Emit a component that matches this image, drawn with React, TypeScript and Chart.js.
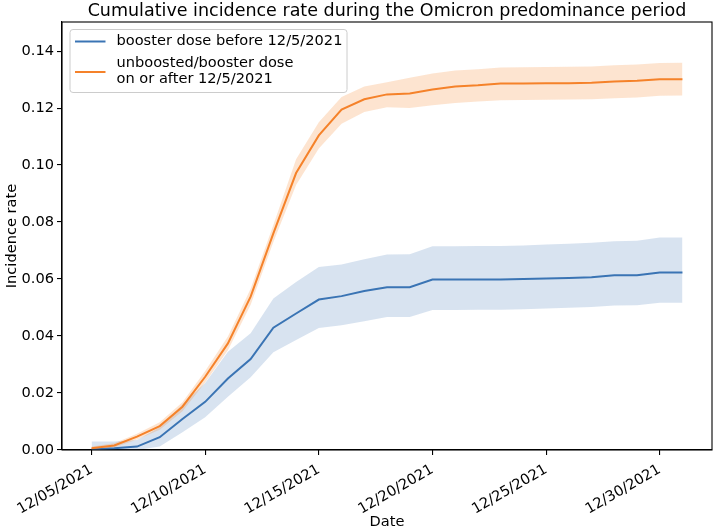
import React, { useEffect, useRef } from "react";
import { Chart, registerables } from "chart.js";

Chart.register(...registerables);

const dates = [
  "12/05/2021", "12/06/2021", "12/07/2021", "12/08/2021", "12/09/2021", "12/10/2021",
  "12/11/2021", "12/12/2021", "12/13/2021", "12/14/2021", "12/15/2021", "12/16/2021",
  "12/17/2021", "12/18/2021", "12/19/2021", "12/20/2021", "12/21/2021", "12/22/2021",
  "12/23/2021", "12/24/2021", "12/25/2021", "12/26/2021", "12/27/2021", "12/28/2021",
  "12/29/2021", "12/30/2021", "12/31/2021",
];

const boosterRate = [
  0.0002, 0.0006, 0.0012, 0.0045, 0.0109, 0.0169, 0.0251, 0.0319, 0.0429, 0.0479,
  0.0528, 0.0540, 0.0558, 0.0571, 0.0571, 0.0598, 0.0598, 0.0598, 0.0598, 0.0600,
  0.0602, 0.0604, 0.0606, 0.0613, 0.0613, 0.0623, 0.0623,
];
const boosterUpper = [
  0.0030, 0.0030, 0.0035, 0.0080, 0.0160, 0.0235, 0.0345, 0.0410, 0.0532, 0.0590,
  0.0642, 0.0651, 0.0669, 0.0686, 0.0687, 0.0715, 0.0715, 0.0716, 0.0716, 0.0718,
  0.0721, 0.0724, 0.0727, 0.0733, 0.0734, 0.0746, 0.0746,
];
const boosterLower = [
  0.0, 0.0, 0.0, 0.0012, 0.0062, 0.0115, 0.0187, 0.0255, 0.0343, 0.0386,
  0.0428, 0.0438, 0.0452, 0.0467, 0.0467, 0.0491, 0.0491, 0.0492, 0.0492, 0.0494,
  0.0497, 0.0499, 0.0502, 0.0507, 0.0508, 0.0517, 0.0517,
];

const unboostedRate = [
  0.0006, 0.0016, 0.0047, 0.0084, 0.0152, 0.0257, 0.0374, 0.0538, 0.0760, 0.0972,
  0.1104, 0.1195, 0.1231, 0.1248, 0.1251, 0.1265, 0.1276, 0.1280, 0.1286, 0.1286,
  0.1287, 0.1287, 0.1289, 0.1293, 0.1296, 0.1301, 0.1301,
];
const unboostedUpper = [
  0.0012, 0.0024, 0.0057, 0.0097, 0.0168, 0.0277, 0.0398, 0.0566, 0.0790, 0.1020,
  0.1150, 0.1239, 0.1276, 0.1291, 0.1306, 0.1321, 0.1332, 0.1336, 0.1342, 0.1343,
  0.1344, 0.1345, 0.1346, 0.1350, 0.1353, 0.1358, 0.1359,
];
const unboostedLower = [
  0.0001, 0.0009, 0.0037, 0.0071, 0.0136, 0.0237, 0.0350, 0.0510, 0.0730, 0.0930,
  0.1058, 0.1145, 0.1186, 0.1203, 0.1200, 0.1210, 0.1218, 0.1223, 0.1227, 0.1228,
  0.1229, 0.1230, 0.1231, 0.1234, 0.1237, 0.1243, 0.1244,
];

const xTickDays = [0, 5, 10, 15, 20, 25];
const xTickLabels = ["12/05/2021", "12/10/2021", "12/15/2021", "12/20/2021", "12/25/2021", "12/30/2021"];
const yTickValues = [0, 0.02, 0.04, 0.06, 0.08, 0.1, 0.12, 0.14];
const yTickLabels = ["0.00", "0.02", "0.04", "0.06", "0.08", "0.10", "0.12", "0.14"];

const seriesNames = ["booster dose before 12/5/2021", "unboosted/booster dose\non or after 12/5/2021"];
const titleText = "Cumulative incidence rate during the Omicron predominance period";

const BLUE = "#3a74b4";
const BLUE_BAND = "rgba(58,116,180,0.2)";
const ORANGE = "#f5822a";
const ORANGE_BAND = "rgba(245,130,42,0.22)";
const FONT = "'DejaVu Sans', sans-serif";
const FS = 14.6;

const toPts = (arr: number[]) => arr.map((v, i) => ({ x: i, y: v }));

export default function App() {
  const ref = useRef<HTMLCanvasElement | null>(null);

  useEffect(() => {
    if (!ref.current) return;
    const decor = {
      id: "decor",
      afterDraw(chart: any) {
        const { ctx, chartArea } = chart;
        const { left, right, top, bottom } = chartArea;
        ctx.save();
        // spines
        ctx.strokeStyle = "#000";
        ctx.lineWidth = 1.1;
        ctx.strokeRect(left, top, right - left, bottom - top);
        // title
        ctx.fillStyle = "#000";
        ctx.font = `17.5px ${FONT}`;
        ctx.textAlign = "center";
        ctx.textBaseline = "middle";
        ctx.fillText(titleText, (left + right) / 2, 11);
        // legend
        const bx = left + 8, by = top + 7.5, bw = 277, bh = 63;
        ctx.beginPath();
        const r = 3;
        ctx.moveTo(bx + r, by);
        ctx.lineTo(bx + bw - r, by);
        ctx.quadraticCurveTo(bx + bw, by, bx + bw, by + r);
        ctx.lineTo(bx + bw, by + bh - r);
        ctx.quadraticCurveTo(bx + bw, by + bh, bx + bw - r, by + bh);
        ctx.lineTo(bx + r, by + bh);
        ctx.quadraticCurveTo(bx, by + bh, bx, by + bh - r);
        ctx.lineTo(bx, by + r);
        ctx.quadraticCurveTo(bx, by, bx + r, by);
        ctx.closePath();
        ctx.fillStyle = "rgba(255,255,255,0.8)";
        ctx.fill();
        ctx.strokeStyle = "#cccccc";
        ctx.lineWidth = 1;
        ctx.stroke();

        ctx.lineWidth = 2;
        ctx.strokeStyle = BLUE;
        ctx.beginPath();
        ctx.moveTo(bx + 5, top + 19.5);
        ctx.lineTo(bx + 35.5, top + 19.5);
        ctx.stroke();
        ctx.strokeStyle = ORANGE;
        ctx.beginPath();
        ctx.moveTo(bx + 5, top + 50);
        ctx.lineTo(bx + 35.5, top + 50);
        ctx.stroke();

        ctx.fillStyle = "#000";
        ctx.font = `${FS}px ${FONT}`;
        ctx.textAlign = "left";
        ctx.textBaseline = "middle";
        ctx.fillText(seriesNames[0], bx + 46.5, top + 19.5);
        const lines = seriesNames[1].split("\n");
        ctx.fillText(lines[0], bx + 46.5, top + 41);
        ctx.fillText(lines[1], bx + 46.5, top + 57.3);
        ctx.restore();
      },
    };

    const chart = new Chart(ref.current, {
      type: "line",
      data: {
        datasets: [
          {
            label: "booster lower",
            data: toPts(boosterLower),
            borderWidth: 0,
            pointRadius: 0,
            fill: false,
            order: 3,
          },
          {
            label: "booster upper",
            data: toPts(boosterUpper),
            borderWidth: 0,
            pointRadius: 0,
            fill: "-1",
            backgroundColor: BLUE_BAND,
            order: 3,
          },
          {
            label: "unboosted lower",
            data: toPts(unboostedLower),
            borderWidth: 0,
            pointRadius: 0,
            fill: false,
            order: 2,
          },
          {
            label: "unboosted upper",
            data: toPts(unboostedUpper),
            borderWidth: 0,
            pointRadius: 0,
            fill: "-1",
            backgroundColor: ORANGE_BAND,
            order: 2,
          },
          {
            label: seriesNames[0],
            data: toPts(boosterRate),
            borderColor: BLUE,
            borderWidth: 2,
            pointRadius: 0,
            fill: false,
            order: 1,
          },
          {
            label: seriesNames[1],
            data: toPts(unboostedRate),
            borderColor: ORANGE,
            borderWidth: 2,
            pointRadius: 0,
            fill: false,
            order: 0,
          },
        ],
      },
      options: {
        animation: false,
        responsive: false,
        maintainAspectRatio: false,
        layout: { padding: { top: 22, right: 2, left: 0, bottom: 0 } },
        elements: { line: { tension: 0 } },
        plugins: {
          legend: { display: false },
          title: { display: false },
          tooltip: { enabled: false },
        },
        scales: {
          x: {
            type: "linear",
            min: -1.3,
            max: 27.3,
            afterBuildTicks: (s: any) => {
              s.ticks = xTickDays.map((v) => ({ value: v }));
            },
            afterFit: (s: any) => {
              s.height = 82;
            },
            ticks: {
              callback: (v: any) => {
                const i = xTickDays.indexOf(Number(v));
                return i >= 0 ? xTickLabels[i] : "";
              },
              maxRotation: 30,
              minRotation: 30,
              autoSkip: false,
              color: "#000",
              font: { family: FONT, size: FS },
              padding: 6,
            },
            grid: {
              display: true,
              drawOnChartArea: false,
              drawTicks: true,
              tickLength: 5,
              color: "#000",
              lineWidth: 1.1,
            },
            border: { display: true, color: "#000", width: 1.1 },
            title: {
              display: true,
              text: "Date",
              color: "#000",
              font: { family: FONT, size: FS },
              padding: { top: 0, bottom: 1 },
            },
          },
          y: {
            type: "linear",
            min: 0,
            max: 0.1502,
            afterBuildTicks: (s: any) => {
              s.ticks = yTickValues.map((v) => ({ value: v }));
            },
            afterFit: (s: any) => {
              s.width = 62;
            },
            ticks: {
              callback: (v: any) => {
                const i = yTickValues.findIndex((t) => Math.abs(t - Number(v)) < 1e-9);
                return i >= 0 ? yTickLabels[i] : "";
              },
              autoSkip: false,
              color: "#000",
              font: { family: FONT, size: FS },
              padding: 3,
            },
            grid: {
              display: true,
              drawOnChartArea: false,
              drawTicks: true,
              tickLength: 5,
              color: "#000",
              lineWidth: 1.1,
            },
            border: { display: true, color: "#000", width: 1.1 },
            title: {
              display: true,
              text: "Incidence rate",
              color: "#000",
              font: { family: FONT, size: FS },
              padding: { top: 3, bottom: 0 },
            },
          },
        },
      },
      plugins: [decor],
    } as any);
    return () => chart.destroy();
  }, []);

  return (
    <div style={{ position: "absolute", left: 0, top: 0, width: 714, height: 532, background: "#fff" }}>
      <canvas ref={ref} width={714} height={532} style={{ display: "block" }} />
    </div>
  );
}
